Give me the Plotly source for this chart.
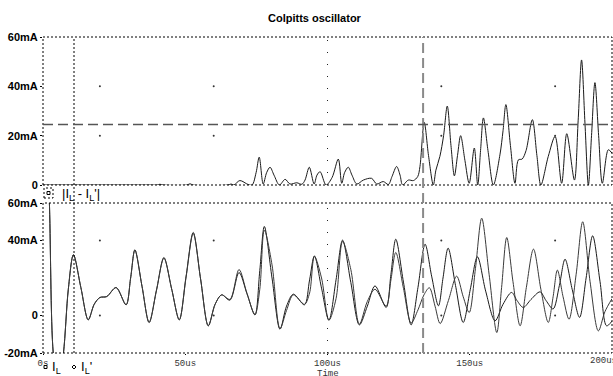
import plotly.graph_objects as go

# ---------------- data ----------------
# bottom panel: I(L) and I(L') in mA versus time in us
t_IL = [0.0, 1.2, 2.2, 3.6, 5.4, 7.2, 8.9, 10.7, 13.3, 15.9, 18.0, 20.0, 22.4, 25.7, 29.2, 30.8,
        32.3, 34.8, 37.3, 39.9, 42.5, 45.2, 47.9, 50.3, 52.8, 55.4, 58.1, 60.5, 62.8, 65.7, 68.9,
        71.7, 74.5, 76.2, 77.8, 80.5, 83.3, 85.6, 88.0, 91.9, 93.7, 95.4, 97.9, 100.5, 103.0,
        105.3, 108.2, 111.2, 114.0, 116.7, 120.6, 122.3, 124.0, 126.7, 129.4,
        131.8, 134.3, 136.6, 139.0, 140.6, 142.4, 145.0, 147.7, 150.2, 152.7, 155.6, 158.9,
        161.7, 164.7, 166.6, 168.8, 171.5, 174.7, 176.8, 179.3, 181.5, 183.5, 186.0, 188.6,
        190.9, 193.2, 195.8, 198.1, 200.0]
IL = [110, 90, 62, -20, -38, -20, 14, 32.4, 15, -2.3, 6, 9.6, 10.1, 14.9, 5.7, 20,
      35.0, 15.6, -3.7, 13.6, 30.9, 14.3, -2.3, 21, 44.3, 19.4, -5.5, 6, 11.0, 8.2, 22.9,
      11.6, 0.3, 24, 47.5, 20, -7.3, 5, 11.4, 5.7, 19, 31.8, 14.6, -2.5, 19,
      40.2, 17.6, -5.0, 5, 15.8, 4.3, 22, 40.7, 17.8, -5.0,
      15, 38.0, 21, 5.2, 20, 35.9, 16, -3.7, 14, 31.3, 13, -2.8,
      6, 12.3, 8, 4.3, 8.5, 12.6, 8, 3.5, 16, 30, 14, -1,
      20, 42.5, 18, -5.5, -3]

t_ILp = [0.0, 1.2, 2.2, 3.6, 5.4, 7.2, 8.9, 10.7, 13.3, 15.9, 18.0, 20.0, 22.4, 25.7, 29.2, 30.8,
         32.3, 34.8, 37.3, 39.9, 42.5, 45.2, 47.9, 50.3, 52.8, 55.4, 58.1, 60.5, 62.8, 65.7, 68.9,
         71.7, 74.5, 76.2, 77.8, 80.5, 83.3, 85.6, 88.0, 91.9, 93.7, 95.4, 97.9, 100.5, 103.0,
         105.3, 108.2, 111.2, 114.0, 116.7, 120.6, 122.3, 124.0, 126.7, 129.4,
         131.8, 133.9, 135.8, 137.8, 139.6, 142.5, 145.4, 147.7, 149.8, 152.0,
         154.2, 156.8, 159.5, 161.2, 163.0, 165.2, 167.7, 169.9, 172.4, 175.0,
         177.6, 179.3, 180.8, 182.8, 184.9, 187.4, 189.7, 192.3, 195.2, 197.5, 200.0]
ILp = [110, 90, 62, -20, -38, -20, 14, 32.4, 15, -2.3, 6, 9.6, 10.1, 14.9, 5.7, 20,
       35.0, 15.6, -3.7, 13.6, 30.6, 14.3, -2.3, 20.5, 43.8, 19.4, -5.5, 6, 11.0, 8.6, 24.5,
       11.8, 0.5, 14, 45.5, 27, -7.0, 2.7, 11.0, 6.0, 12, 31.5, 20, -2.5, 9,
       39.5, 24.5, -4.6, 7.5, 14.0, 5.0, 19, 33.6, 14.5, -4.0,
       3, 11, 14.8, 5, -4.3, 8, 21, 10, 1.6, 25,
       51.9, 22, -9.1, 15, 41.6, 18, -5.5, 15, 35.4, 14,
       -3.7, 10, 24.2, 10, -2, 22, 50, 18, -8.2, 2, 9]

# top panel: |I(L) - I(L')| in mA
t_diff = [0, 37.6, 40.1, 41.1, 42.2, 50.6, 51.7, 52.7, 65.0, 66.1, 67.1, 69.2, 72.1, 73.5, 74.9,
          76.0, 77.4, 78.6, 79.8, 81.2, 83.1, 85.1, 86.8, 89.2, 91.0, 92.1, 93.6, 95.3, 96.3,
          97.4, 99.5, 101.6, 103.8, 105.0, 106.0, 107.3, 108.6, 110.3, 112.6, 115.5, 117.3,
          119.6, 121.4, 122.7, 124.3, 125.5, 126.4, 128.4, 130.2, 131.7, 132.5, 134.0, 135.5,
          137.2, 138.1, 139.5, 140.8, 142.1, 143.4, 144.6, 145.7, 146.8, 148.3, 149.8, 151.6,
          152.8, 153.8, 154.8, 156.4, 158.3, 160.6, 161.7, 162.7, 164.3, 165.9, 167.1, 168.4,
          169.8, 172.0, 173.6, 175.0, 177.6, 180.0, 182.3, 184.1, 186.8, 188.1, 189.3, 190.5,
          191.7, 192.8, 194.0, 195.3, 196.6, 198.7, 200.0]
diff = [0, 0, 0, 0.3, 0, 0, 0.5, 0, 0, 0.4, 0, 1.8, 0.2, 0, 5,
        11.3, 0.4, 5, 7.2, 4, 0, 2.3, 0.4, 0.9, 0.3, 2, 7.2, 0.4, 4,
        5.4, 0, 3, 10.5, 0.7, 5, 7.2, 4, 0.4, 2, 2.7, 0.4,
        1.4, 0.2, 3.5, 7.5, 4, 0, 2, 1.8, 3.4, 7.5, 25.4, 12,
        0, 6, 11.6, 20, 32.0, 16, 3.7, 12, 20.0, 10, 0.7, 15.0,
        0, 14, 27.2, 14, 0, 12.2, 22, 32.6, 16, 0.7, 10.2, 10.5,
        14, 26.5, 12, 0, 11.6, 19.7, 0.7, 20.8, 2, 26, 50.7, 25,
        0, 20, 41.5, 20, 0.7, 14.3, 12.9]

# axis ticks
x_tickvals = [0, 50, 100, 150]
x_ticktext = ["0s", "50us", "100us", "150us"]
x_last_label = "200us"
top_tickvals = [0, 20, 40, 60]
top_ticktext = ["0", "20mA", "40mA", "60mA"]
bot_tickvals = [-20, 0, 40, 60]
bot_ticktext = ["-20mA", "0", "40mA", "60mA"]

# cursors
cursor1_t = 10.9
cursor2_t = 133.6
cursor_level = 24.5

# grid marks
grid_t = [20, 60, 140, 180]
top_grid_levels = [40, 20]
bot_grid_levels = [40, 0]

# ---------------- figure ----------------
W, H = 613, 376
def px(x):
    return x / W
def py(y):
    return (H - y) / H

XDOM = [px(43), px(612)]
BOT_DOM = [py(353), py(203)]
TOP_DOM = [py(185), py(37)]

fig = go.Figure()
line_style = dict(color="#1a1a1a", width=1, shape="spline", smoothing=0.9)

fig.add_trace(go.Scatter(x=t_diff, y=diff, mode="lines", line=line_style,
                         xaxis="x2", yaxis="y2", hoverinfo="skip"))
fig.add_trace(go.Scatter(x=t_IL, y=IL, mode="lines", line=line_style, hoverinfo="skip"))
fig.add_trace(go.Scatter(x=t_ILp, y=ILp, mode="lines",
                         line=dict(color="#3a3a3a", width=1, shape="spline", smoothing=0.9),
                         hoverinfo="skip"))

# grid dots
gx_top = [t for lv in top_grid_levels for t in grid_t]
gy_top = [lv for lv in top_grid_levels for t in grid_t]
gx_bot = [t for lv in bot_grid_levels for t in grid_t]
gy_bot = [lv for lv in bot_grid_levels for t in grid_t]
fig.add_trace(go.Scatter(x=gx_top, y=gy_top, mode="markers", xaxis="x2", yaxis="y2",
                         marker=dict(size=2, color="#333"), hoverinfo="skip"))
fig.add_trace(go.Scatter(x=gx_bot, y=gy_bot, mode="markers",
                         marker=dict(size=2, color="#333"), hoverinfo="skip"))

tickfont_y = dict(family="Liberation Sans, Arial", size=11, color="black", weight="bold")
tickfont_x = dict(family="Liberation Mono, Courier New", size=9, color="#333")

fig.update_layout(
    width=W, height=H, autosize=False,
    margin=dict(l=0, r=0, t=0, b=0, pad=0),
    paper_bgcolor="white", plot_bgcolor="white",
    showlegend=False,
    xaxis=dict(domain=XDOM, range=[0, 200], anchor="y", tickvals=x_tickvals,
               ticktext=x_ticktext, tickfont=tickfont_x, ticks="outside", ticklen=1,
               tickcolor="black", showgrid=False, zeroline=False, showline=False,
               automargin=False),
    xaxis2=dict(domain=XDOM, range=[0, 200], anchor="y2", showticklabels=False,
                ticks="", showgrid=False, zeroline=False, showline=False, automargin=False),
    yaxis=dict(domain=BOT_DOM, range=[-20, 60], anchor="x", tickvals=bot_tickvals,
               ticktext=bot_ticktext, tickfont=tickfont_y, ticks="outside", ticklen=2,
               tickcolor="black", showgrid=False, zeroline=False, showline=False,
               automargin=False),
    yaxis2=dict(domain=TOP_DOM, range=[0, 60], anchor="x2", tickvals=top_tickvals,
                ticktext=top_ticktext, tickfont=tickfont_y, ticks="outside", ticklen=2,
                tickcolor="black", showgrid=False, zeroline=False, showline=False,
                automargin=False),
)

dotted = dict(color="black", width=1, dash="2px,2px")
shapes = []
# panel frames
shapes.append(dict(type="rect", xref="x domain", yref="y domain", x0=0, x1=1, y0=0, y1=1,
                   line=dotted))
shapes.append(dict(type="rect", xref="x2 domain", yref="y2 domain", x0=0, x1=1, y0=0, y1=1,
                   line=dotted))
# centre dotted verticals at 100us
shapes.append(dict(type="line", xref="x", yref="y domain", x0=100, x1=100, y0=0, y1=1,
                   line=dict(color="#222", width=1, dash="1px,11px")))
shapes.append(dict(type="line", xref="x2", yref="y2 domain", x0=100, x1=100, y0=0, y1=1,
                   line=dict(color="#222", width=1, dash="1px,11px")))
# cursor 1 (dotted, spans both panels)
shapes.append(dict(type="line", xref="x", yref="paper", x0=cursor1_t, x1=cursor1_t,
                   y0=BOT_DOM[0], y1=TOP_DOM[1], line=dotted))
# cursor 2 (dashed grey, spans both panels)
shapes.append(dict(type="line", xref="x", yref="paper", x0=cursor2_t, x1=cursor2_t,
                   y0=BOT_DOM[0], y1=TOP_DOM[1],
                   line=dict(color="#8a8a8a", width=2, dash="10px,5px")))
# horizontal cursor level in top panel
shapes.append(dict(type="line", xref="x2 domain", yref="y2", x0=0, x1=1,
                   y0=cursor_level, y1=cursor_level,
                   line=dict(color="#555", width=1.5, dash="10px,5px")))
# legend symbol boxes
shapes.append(dict(type="rect", xref="paper", yref="paper", x0=px(44), x1=px(53),
                   y0=py(198), y1=py(188), line=dotted))
shapes.append(dict(type="rect", xref="paper", yref="paper", x0=px(47), x1=px(50),
                   y0=py(194.5), y1=py(191.5), line=dict(color="black", width=1)))
shapes.append(dict(type="rect", xref="paper", yref="paper", x0=px(44), x1=px(47),
                   y0=py(368.5), y1=py(365.5), line=dict(color="black", width=1)))
shapes.append(dict(type="path", xref="paper", yref="paper",
                   path=f"M {px(72)} {py(367)} L {px(74)} {py(365)} L {px(76)} {py(367)} L {px(74)} {py(369)} Z",
                   line=dict(color="black", width=1)))
fig.update_layout(shapes=shapes)

label_font = dict(family="Liberation Sans, Arial", size=13, color="black")
annotations = [
    dict(text="<b>Colpitts oscillator</b>", xref="paper", yref="paper", x=px(315), y=py(18),
         showarrow=False, font=dict(family="Liberation Sans, Arial", size=11, color="black"),
         xanchor="center", yanchor="middle"),
    dict(text="|I<sub>L</sub> - I<sub>L</sub>'|", xref="paper", yref="paper", x=px(60), y=py(194),
         showarrow=False, font=label_font, xanchor="left", yanchor="middle"),
    dict(text="I<sub>L</sub>", xref="paper", yref="paper", x=px(50), y=py(367),
         showarrow=False, font=label_font, xanchor="left", yanchor="middle"),
    dict(text="I<sub>L</sub>'", xref="paper", yref="paper", x=px(79), y=py(367),
         showarrow=False, font=label_font, xanchor="left", yanchor="middle"),
    dict(text=x_last_label, xref="x", yref="paper", x=200, y=py(361), xshift=-24,
         showarrow=False, font=tickfont_x, xanchor="left", yanchor="middle"),
    dict(text="Time", xref="x", yref="paper", x=100, y=py(373.5),
         showarrow=False, font=tickfont_x, xanchor="center", yanchor="middle"),
]
fig.update_layout(annotations=annotations)

fig.write_html("out.html",
               config={"displayModeBar": False, "staticPlot": True},
               post_script="document.body.style.margin='0';document.body.style.padding='0';"
                           "document.body.style.overflow='hidden';")
